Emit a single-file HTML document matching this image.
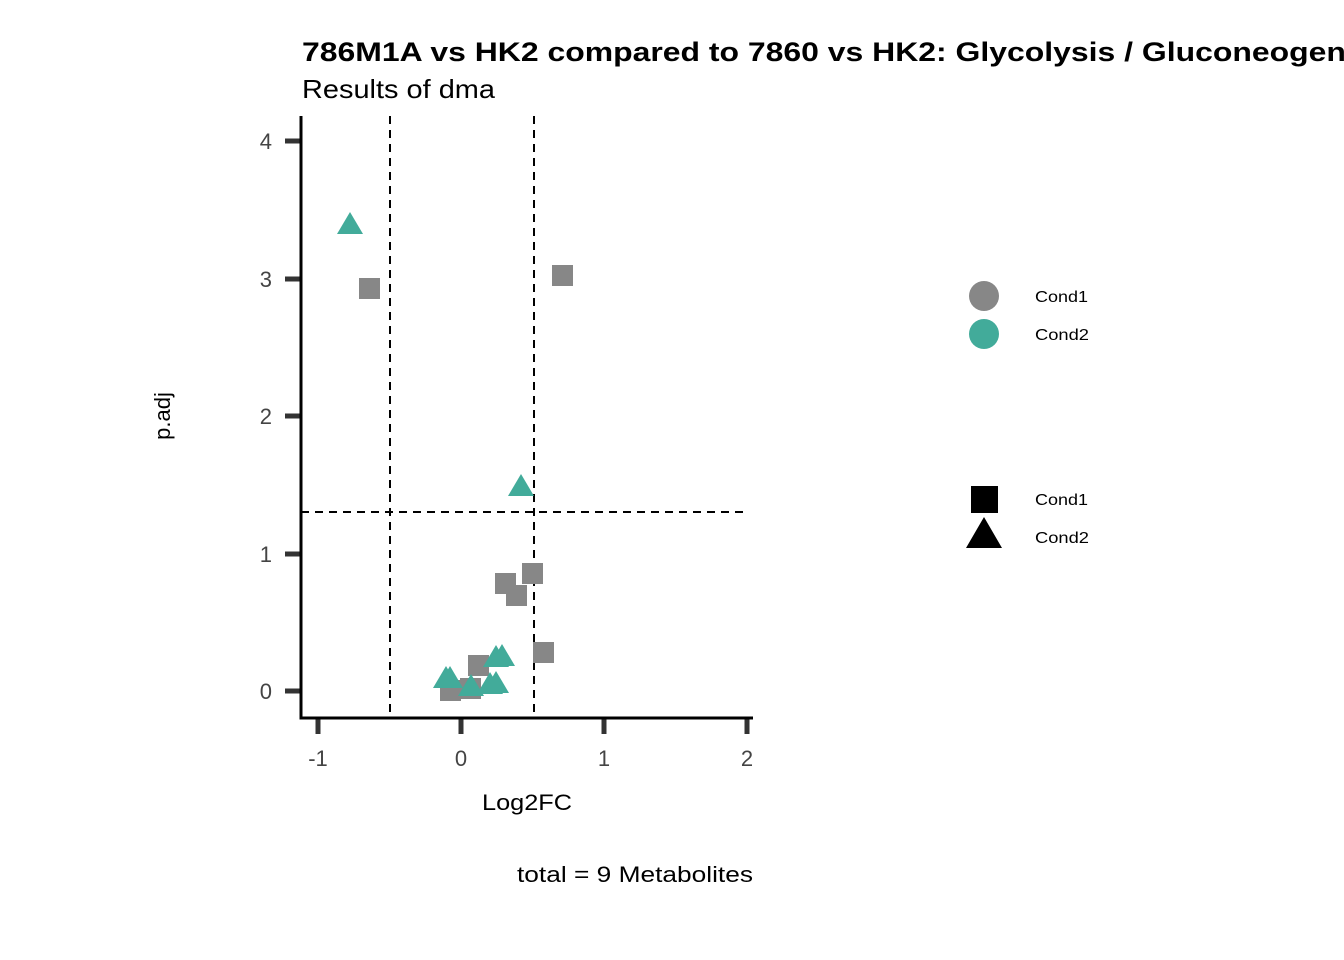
<!DOCTYPE html><html><head><style>body{margin:0;background:#fff;overflow:hidden}svg{display:block}text{font-family:"Liberation Sans",sans-serif}</style></head><body>
<svg width="1344" height="960" viewBox="0 0 1344 960">
<text x="302" y="61" font-size="27" font-weight="bold" textLength="1106" lengthAdjust="spacingAndGlyphs">786M1A vs HK2 compared to 7860 vs HK2: Glycolysis / Gluconeogenesis</text>
<text x="302" y="98" font-size="26" textLength="193" lengthAdjust="spacingAndGlyphs">Results of dma</text>
<g stroke="#000" stroke-width="2" stroke-dasharray="8,6" fill="none">
<line x1="390" y1="116" x2="390" y2="718"/><line x1="534" y1="116" x2="534" y2="718"/><line x1="301" y1="512" x2="748" y2="512"/></g>
<g stroke="#333" stroke-width="5">
<line x1="285" y1="691" x2="300" y2="691"/><line x1="285" y1="554" x2="300" y2="554"/><line x1="285" y1="416" x2="300" y2="416"/><line x1="285" y1="279" x2="300" y2="279"/><line x1="285" y1="141" x2="300" y2="141"/>
<line x1="318" y1="719" x2="318" y2="734"/><line x1="461" y1="719" x2="461" y2="734"/><line x1="604" y1="719" x2="604" y2="734"/><line x1="747" y1="719" x2="747" y2="734"/></g>
<path d="M301 116 V718 H753" stroke="#000" stroke-width="3" fill="none"/>
<g font-size="22" fill="#444" text-anchor="end"><text x="272" y="699">0</text><text x="272" y="562">1</text><text x="272" y="424">2</text><text x="272" y="287">3</text><text x="272" y="149">4</text></g>
<g font-size="22" fill="#444" text-anchor="middle"><text x="318" y="766">-1</text><text x="461" y="766">0</text><text x="604" y="766">1</text><text x="747" y="766">2</text></g>
<text x="482" y="810" font-size="22" textLength="90" lengthAdjust="spacingAndGlyphs">Log2FC</text>
<text transform="translate(170,416) rotate(-90)" font-size="22" text-anchor="middle">p.adj</text>
<text x="517" y="882" font-size="22" textLength="236" lengthAdjust="spacingAndGlyphs">total = 9 Metabolites</text>
<g fill="#878787">
<rect x="359" y="278" width="21" height="21"/><rect x="552" y="265" width="21" height="21"/>
<rect x="522" y="563" width="21" height="21"/><rect x="495" y="573" width="21" height="21"/><rect x="506" y="585" width="21" height="21"/>
<rect x="533" y="642" width="21" height="21"/><rect x="468" y="655" width="21" height="21"/><rect x="440" y="680" width="21" height="21"/><rect x="460" y="678" width="21" height="21"/></g>
<g fill="#42ab9a">
<polygon points="350,212 337,234 363,234"/><polygon points="521,474 508,496 534,496"/>
<polygon points="446,666 433,688 459,688"/><polygon points="450,666 437,688 463,688"/>
<polygon points="471,674 458,696 484,696"/><polygon points="490,672 477,694 503,694"/><polygon points="496,671 483,693 509,693"/>
<polygon points="496,645 483,667 509,667"/><polygon points="502,644 489,666 515,666"/></g>
<circle cx="984" cy="296" r="15" fill="#878787"/><circle cx="984" cy="334" r="15" fill="#42ab9a"/>
<rect x="971" y="486" width="27" height="27" fill="#000"/><polygon points="984,517 966,548 1002,548" fill="#000"/>
<g font-size="16"><text x="1035" y="302" textLength="53" lengthAdjust="spacingAndGlyphs">Cond1</text><text x="1035" y="340" textLength="54" lengthAdjust="spacingAndGlyphs">Cond2</text><text x="1035" y="505" textLength="53" lengthAdjust="spacingAndGlyphs">Cond1</text><text x="1035" y="543" textLength="54" lengthAdjust="spacingAndGlyphs">Cond2</text></g>
</svg></body></html>
